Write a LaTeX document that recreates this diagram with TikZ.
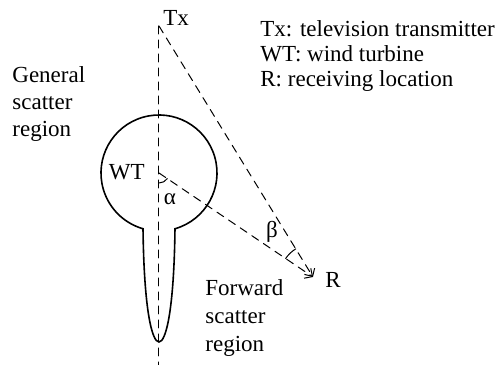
\documentclass[tikz,border=0pt]{standalone}
\usepackage{fontspec}
\setmainfont{LiberationSerif}[Extension=.ttf,UprightFont=*-Regular]
\usetikzlibrary{arrows.meta}

\begin{document}
\begin{tikzpicture}[x=0.5pt,y=0.5pt,>={Straight Barb[length=3pt]},font=\fontsize{11.5}{12.5}\selectfont,line cap=round,
  ray/.style={dash pattern=on 4pt off 3pt,line width=0.5pt},
  lbl/.style={inner sep=0pt,align=left}]
\useasboundingbox (0,0) rectangle (495,365);
\coordinate (tx) at (159,339);
\coordinate (wt) at (159,192);
\coordinate (rx) at (313,88);
\coordinate (bot) at (159,0);
% scatter region outline
\draw[line width=0.8pt] (wt) ++(-74:29pt) arc[start angle=-74,end angle=254,radius=29pt]
  .. controls (144,55) and (152,23) .. (159,23)
  .. controls (166,23) and (174,55) .. cycle;
% rays
\draw[ray] (tx) -- (bot);
\draw[ray,->] (tx) -- (rx);
\draw[ray,->] (wt) -- (rx);
% angles
\draw[line width=0.5pt] ([shift={(-90:5pt)}]wt) arc[start angle=-90,end angle=-34,radius=5pt];
\draw[line width=0.5pt] ([shift={(146:16.5pt)}]rx) arc[start angle=146,end angle=121.5,radius=16.5pt];
% labels
\node[lbl,anchor=base west] (txlbl) at ([xshift=2pt]tx) {Tx};
\node[lbl,anchor=east] (wtlbl) at ([xshift=-7pt,yshift=0.5pt]wt) {WT};
\node[lbl,anchor=west] (rlbl) at ([xshift=6pt,yshift=-1.5pt]rx) {R};
\node[lbl] (alpha) at ([xshift=5.5pt,yshift=-13pt]wt) {α};
\node[lbl] (beta) at ([xshift=-20.5pt,yshift=22.5pt]rx) {β};
\node[lbl,anchor=north west] (legend) at (260,345) {Tx: television transmitter\\WT: wind turbine\\R: receiving location};
\node[lbl,anchor=north west,font=\fontsize{11.5}{13.5}\selectfont] (general) at (12,299) {General\\scatter\\region};
\node[lbl,anchor=north west,font=\fontsize{11.5}{14}\selectfont] (forward) at (205,86) {Forward\\scatter\\region};
\end{tikzpicture}
\end{document}
